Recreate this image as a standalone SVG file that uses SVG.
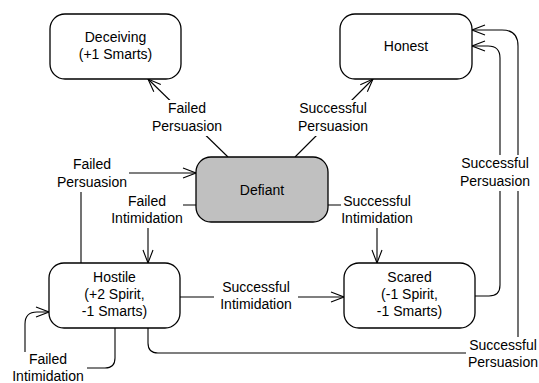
<svg xmlns="http://www.w3.org/2000/svg" width="539" height="383" viewBox="0 0 539 383">
<style>
.node{fill:#fff;stroke:#000;stroke-width:1.3}
.grey{fill:#c0c0c0}
.t{font-family:"Liberation Sans",Arial,sans-serif;font-size:14px;fill:#000;text-anchor:middle}
.c{fill:none;stroke:#000;stroke-width:1.1;marker-end:url(#arr)}
.bg{fill:#fff;stroke:none}
</style>
<defs>
<marker id="arr" markerUnits="userSpaceOnUse" markerWidth="15" markerHeight="13" viewBox="0 0 15 13" refX="14" refY="6.5" orient="auto">
<path d="M1,1.5 L14,6.5 L1,11.5" fill="none" stroke="#000" stroke-width="1.1"/>
</marker>
</defs>
<g id="connectors">
<path class="c" d="M228,157 L148,79"/>
<path class="c" d="M295,157 L373,79"/>
<path class="c" d="M81,263 V185 Q81,173 93,173 H196"/>
<path class="c" d="M196,205 H160 Q148,205 148,217 V263"/>
<path class="c" d="M328,205 H365 Q377,205 377,217 V263"/>
<path class="c" d="M180,297 H344"/>
<path class="c" d="M115,328 V358 Q115,368 105,368 H35 Q25,368 25,358 V324 Q25,312 37,312 H49"/>
<path class="c" d="M475,296 H489 Q500,296 500,285 V58 Q500,46 488,46 H472"/>
<path class="c" d="M148,328 V343 Q148,353 158,353 H503 Q518,353 518,338 V46 Q518,30 502,30 H472"/>
<g id="labels">
<rect class="bg" x="151" y="100" width="72" height="36"/>
<text class="t" x="187" y="113">Failed</text><text class="t" x="187" y="131">Persuasion</text>
<rect class="bg" x="297" y="100" width="72" height="36"/>
<text class="t" x="333" y="113">Successful</text><text class="t" x="333" y="131">Persuasion</text>
<rect class="bg" x="56" y="156" width="73" height="36"/>
<text class="t" x="92" y="169">Failed</text><text class="t" x="92" y="187">Persuasion</text>
<rect class="bg" x="111" y="193" width="72" height="35"/>
<text class="t" x="147" y="206">Failed</text><text class="t" x="147" y="223">Intimidation</text>
<rect class="bg" x="341" y="193" width="72" height="35"/>
<text class="t" x="377" y="206">Successful</text><text class="t" x="377" y="223">Intimidation</text>
<rect class="bg" x="214" y="280" width="84" height="33"/>
<text class="t" x="256" y="292">Successful</text><text class="t" x="256" y="309">Intimidation</text>
<rect class="bg" x="10" y="352" width="77" height="31"/>
<text class="t" x="48" y="364">Failed</text><text class="t" x="48" y="381">Intimidation</text>
<rect class="bg" x="459" y="155" width="76" height="36"/>
<text class="t" x="495" y="168">Successful</text><text class="t" x="495" y="186">Persuasion</text>
<rect class="bg" x="466" y="337" width="73" height="35"/>
<text class="t" x="503" y="350">Successful</text><text class="t" x="503" y="367">Persuasion</text>
</g>
</g>
<g id="deceiving">
<rect class="node" x="50" y="14" width="131" height="65" rx="15"/>
<text class="t" x="115.5" y="42">Deceiving</text><text class="t" x="115.5" y="59">(+1 Smarts)</text>
</g>
<g id="honest">
<rect class="node" x="340" y="14" width="132" height="65" rx="15"/>
<text class="t" x="406" y="51">Honest</text>
</g>
<g id="defiant">
<rect class="node grey" x="196" y="157" width="132" height="65" rx="15"/>
<text class="t" x="262" y="195">Defiant</text>
</g>
<g id="hostile">
<rect class="node" x="49" y="263" width="131" height="65" rx="15"/>
<text class="t" x="114.5" y="282">Hostile</text><text class="t" x="114.5" y="299">(+2 Spirit,</text><text class="t" x="114.5" y="316">-1 Smarts)</text>
</g>
<g id="scared">
<rect class="node" x="344" y="263" width="131" height="65" rx="15"/>
<text class="t" x="409.5" y="282">Scared</text><text class="t" x="409.5" y="299">(-1 Spirit,</text><text class="t" x="409.5" y="316">-1 Smarts)</text>
</g>
</svg>
